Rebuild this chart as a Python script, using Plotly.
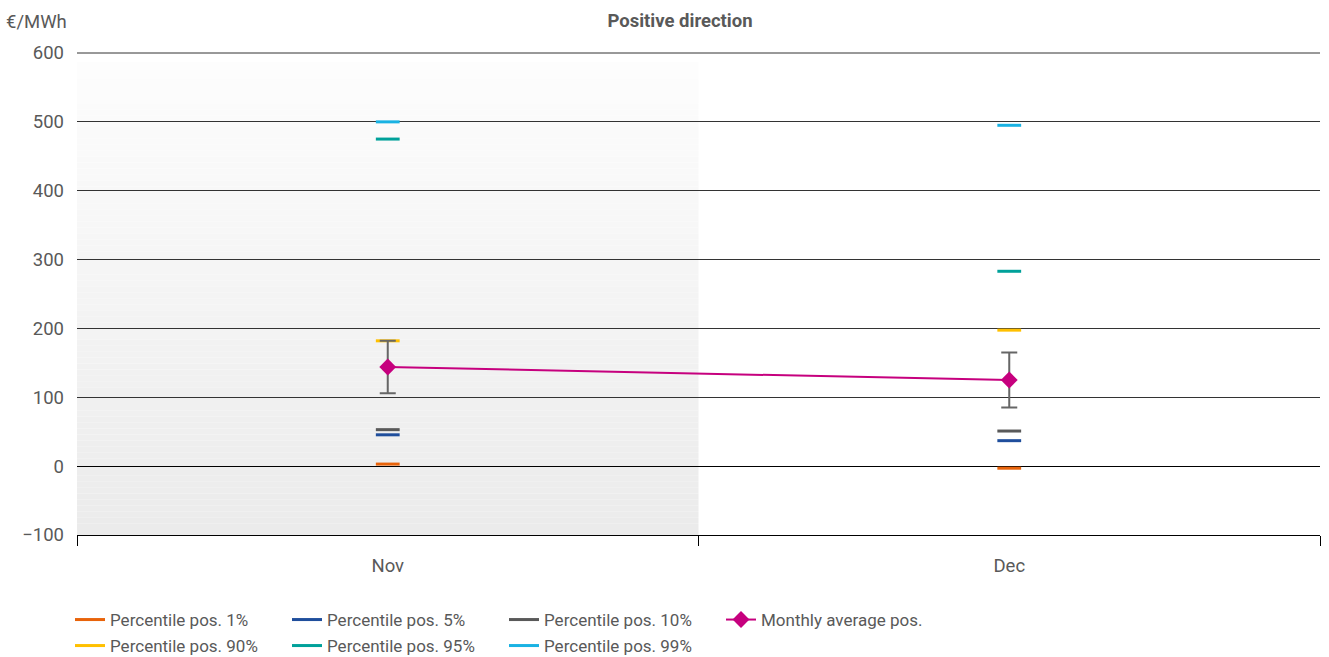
import plotly.graph_objects as go

# Months on the x axis
months = ["Nov", "Dec"]

# Percentiles of positive-direction prices (€/MWh)
p1 = [3, -3]
p5 = [45.5, 37]
p10 = [53, 51]
p90 = [182, 197.5]
p95 = [475, 283]
p99 = [500, 495]

# Monthly average and its spread
avg = [144, 125]
avg_spread = [38, 40]

# y axis extent and step
y_min, y_max, y_step = -100, 600, 100

series = [
    ("Percentile pos. 1%", p1, "#e8630a", "legend"),
    ("Percentile pos. 5%", p5, "#1f4e9c", "legend"),
    ("Percentile pos. 10%", p10, "#595959", "legend"),
    ("Percentile pos. 90%", p90, "#ffc000", "legend2"),
    ("Percentile pos. 95%", p95, "#00a19a", "legend2"),
    ("Percentile pos. 99%", p99, "#19b2e3", "legend2"),
]

fig = go.Figure()

for name, vals, color, lg in series:
    # short horizontal dash per month
    fig.add_trace(go.Scatter(
        x=months, y=vals, mode="markers", name=name, legendgroup=name,
        showlegend=False, hoverinfo="y",
        marker=dict(symbol="line-ew", size=17, line=dict(color=color, width=3)),
    ))

for name, vals, color, lg in series[:3]:
    fig.add_trace(go.Scatter(
        x=[None], y=[None], mode="lines", name=name, legendgroup=name,
        legend="legend", line=dict(color=color, width=3),
    ))

fig.add_trace(go.Scatter(
    x=months, y=avg, mode="lines+markers", name="Monthly average pos.",
    legend="legend",
    line=dict(color="#c6007e", width=2),
    marker=dict(symbol="diamond", size=13, color="#c6007e"),
    error_y=dict(type="data", array=avg_spread, symmetric=True,
                 color="#666666", thickness=2, width=8),
))

for name, vals, color, lg in series[3:]:
    fig.add_trace(go.Scatter(
        x=[None], y=[None], mode="lines", name=name, legendgroup=name,
        legend="legend2", line=dict(color=color, width=3),
    ))

# vertical gradient band behind the first month
n_bands = 80
y_top, y_bot = 587, y_min
c_top, c_bot = 253, 235
shapes = []
for i in range(n_bands):
    t = i / (n_bands - 1)
    g = round(c_top + (c_bot - c_top) * t)
    y1 = y_top + (y_bot - y_top) * i / n_bands
    y0 = y_top + (y_bot - y_top) * (i + 1) / n_bands
    shapes.append(dict(
        type="rect", xref="x", yref="y", x0=-0.5, x1=0.5, y0=y0, y1=y1,
        fillcolor=f"rgb({g},{g},{g})", line=dict(width=0), layer="below",
    ))

# gridline along the top edge of the plotting area
shapes.append(dict(
    type="line", xref="paper", yref="paper", x0=0, x1=1, y0=1, y1=1,
    line=dict(color="#333333", width=1), layer="below",
))

font_main = "Roboto, 'Noto Sans', sans-serif"
legend_common = dict(
    orientation="h", xref="container", yref="container",
    xanchor="left", yanchor="middle", x=70 / 1329,
    font=dict(family=font_main, size=17, color="#595959"),
    entrywidth=172, entrywidthmode="pixels", bgcolor="rgba(0,0,0,0)",
    itemclick=False, tracegroupgap=0,
)

fig.update_layout(
    width=1329, height=657,
    margin=dict(l=77, r=9, t=53, b=122),
    paper_bgcolor="white", plot_bgcolor="white",
    font=dict(family=font_main, color="#595959"),
    shapes=shapes,
    title=dict(text="<b>Positive direction</b>", x=680 / 1329, xanchor="center",
               y=1 - 21 / 657, yanchor="middle",
               font=dict(family=font_main, size=18.5, color="#595959")),
    annotations=[dict(text="€/MWh", xref="paper", yref="paper", x=-73 / 1243,
                      y=1 + 31 / 482, xanchor="left", yanchor="middle",
                      showarrow=False,
                      font=dict(family=font_main, size=18.5, color="#595959"))],
    legend=dict(y=1 - 620 / 657, **legend_common),
    legend2=dict(y=1 - 646 / 657, **legend_common),
    xaxis=dict(
        type="category", range=[-0.5, 1.5], tickson="boundaries",
        showgrid=False, showline=True, linecolor="#000000", linewidth=1,
        ticks="outside", ticklen=10, tickcolor="#000000", tickwidth=1,
        ticklabelstandoff=14,
        tickfont=dict(family=font_main, size=18.5, color="#595959"),
        zeroline=False,
    ),
    yaxis=dict(
        range=[y_min, y_max], dtick=y_step, showgrid=True, gridcolor="#333333",
        gridwidth=1, zeroline=True, zerolinecolor="#000000", zerolinewidth=1,
        showline=False, ticks="", ticklabelstandoff=12,
        tickfont=dict(family=font_main, size=18.5, color="#595959"),
        tickformat="d",
    ),
    showlegend=True,
    hovermode="closest",
)

fig.write_html("out.html")
